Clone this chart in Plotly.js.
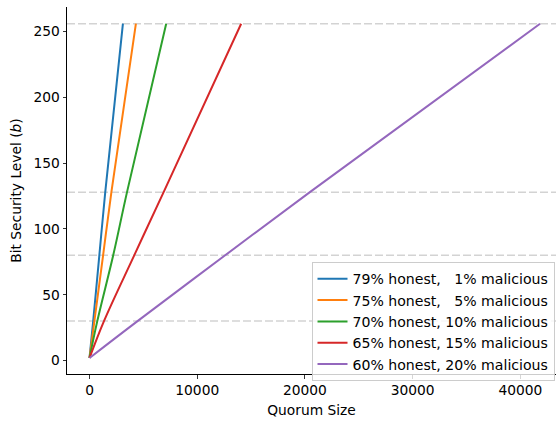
<!DOCTYPE html>
<html><head><meta charset="utf-8">
<script src="https://cdn.plot.ly/plotly-3.0.1.min.js"></script>
<style>html,body{margin:0;padding:0;background:#fff}</style>
</head><body><div id="chart" style="width:556px;height:421px"></div>
<script>
const labels = [
  "79% honest,\u00a0\u00a0\u00a01% malicious",
  "75% honest,\u00a0\u00a0\u00a05% malicious",
  "70% honest, 10% malicious",
  "65% honest, 15% malicious",
  "60% honest, 20% malicious"
];
const bits = [2, 30, 80, 128, 256];
const quorum79 = [0, 340, 910, 1460, 3100];
const quorum75 = [0, 450, 1260, 2030, 4306];
const quorum70 = [0, 720, 2200, 3480, 7118];
const quorum65 = [0, 1340, 4150, 6880, 14079];
const quorum60 = [0, 4455, 12594, 20460, 41830];
const thresholds = [30, 80, 128, 256];
const colors = ["#1f77b4", "#ff7f0e", "#2ca02c", "#d62728", "#9467bd"];

const xs = [quorum79, quorum75, quorum70, quorum65, quorum60];
const traces = xs.map((x, i) => ({
  x: x, y: bits, name: labels[i], type: "scatter", mode: "lines",
  line: {color: colors[i], width: 2, shape: "spline", smoothing: 1}
}));

const font = {family: "DejaVu Sans", size: 13.8, color: "#000"};
const legendFont = {family: "DejaVu Sans", size: 14.1, color: "#000"};
const shapes = thresholds.map(t => ({
  type: "line", xref: "paper", x0: 0, x1: 1, yref: "y", y0: t, y1: t,
  line: {color: "#d3d3d3", width: 1.5, dash: "8px,3px"}, layer: "below"
}));

const layout = {
  width: 556, height: 421,
  margin: {l: 67, r: 0, t: 7, b: 47},
  paper_bgcolor: "#fff", plot_bgcolor: "#fff",
  font: font,
  showlegend: true,
  legend: {
    x: 0.50, y: 0.305, xanchor: "left", yanchor: "top",
    bgcolor: "rgba(255,255,255,0.8)", bordercolor: "#cccccc", borderwidth: 1,
    font: legendFont, itemwidth: 30, tracegroupgap: 0
  },
  xaxis: {
    range: [-2092, 43313], showgrid: false, zeroline: false,
    showline: true, linecolor: "#000", linewidth: 1,
    ticks: "outside", ticklen: 3.5, tickwidth: 0.8, tickcolor: "#000",
    tickvals: [0, 10000, 20000, 30000, 40000], tickformat: "d",
    title: {text: "Quorum Size", font: font, standoff: 8}
  },
  yaxis: {
    range: [-10.2, 268.7], showgrid: false, zeroline: false,
    showline: true, linecolor: "#000", linewidth: 1,
    ticks: "outside", ticklen: 3.5, tickwidth: 0.8, tickcolor: "#000",
    tickvals: [0, 50, 100, 150, 200, 250],
    title: {text: "Bit Security Level (<i>b</i>)", font: font, standoff: 8}
  },
  shapes: shapes
};
Plotly.newPlot("chart", traces, layout, {displayModeBar: false, staticPlot: true});
</script></body></html>
